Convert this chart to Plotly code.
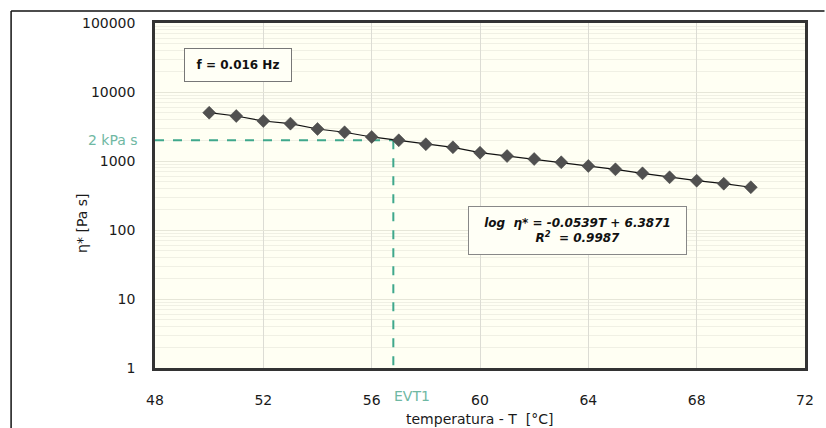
import plotly.graph_objects as go

# Data
temperature = [50, 51, 52, 53, 54, 55, 56, 57, 58, 59, 60, 61, 62, 63, 64, 65, 66, 67, 68, 69, 70]
viscosity = [5010, 4490, 3800, 3480, 2910, 2610, 2230, 1995, 1750, 1580, 1320,
             1180, 1070, 958, 847, 758, 663, 581, 518, 469, 416]
evt1_T = 56.8
ref_visc = 2000
x_ticks = [48, 52, 56, 60, 64, 68, 72]
y_decades = [1, 10, 100, 1000, 10000, 100000]

teal = "#3fa88c"
label_teal = "#6fb8a3"
font_family = "DejaVu Sans, Liberation Sans, Arial, sans-serif"

# minor log grid: 2..9 multiples within each decade
y_minor = [d * m for d in y_decades[:-1] for m in range(2, 10)]

fig = go.Figure()

# reference dashed lines (EVT1 at 2 kPa s)
fig.add_trace(go.Scatter(
    x=[48, evt1_T], y=[ref_visc, ref_visc], mode="lines",
    line=dict(color=teal, width=2, dash="dash"), hoverinfo="skip", showlegend=False))
fig.add_trace(go.Scatter(
    x=[evt1_T, evt1_T], y=[ref_visc, 1], mode="lines",
    line=dict(color=teal, width=2, dash="dash"), hoverinfo="skip", showlegend=False))

fig.add_trace(go.Scatter(
    x=temperature, y=viscosity, mode="lines+markers",
    line=dict(color="#111111", width=1.2),
    marker=dict(symbol="diamond", size=10, color="#505050",
                line=dict(color="#404040", width=0.5)),
    showlegend=False))

fig.update_xaxes(
    range=[48, 72], tickvals=x_ticks, ticktext=[str(v) for v in x_ticks],
    showgrid=True, gridcolor="#dcdcd4", gridwidth=1,
    showline=True, linecolor="#333333", linewidth=2.5, mirror=True,
    ticks="outside", ticklen=17, tickcolor="rgba(0,0,0,0)",
    tickfont=dict(family=font_family, size=14, color="#1a1a1a"),
    zeroline=False)

fig.update_yaxes(
    type="log", range=[0, 5], tickvals=y_decades, ticktext=[str(v) for v in y_decades],
    showgrid=True, gridcolor="#e6e6d8", gridwidth=1,
    minor=dict(tickvals=y_minor, showgrid=True, gridcolor="#f0f0e4", gridwidth=1, ticks=""),
    showline=True, linecolor="#333333", linewidth=2.5, mirror=True,
    ticks="outside", ticklen=14, tickcolor="rgba(0,0,0,0)",
    tickfont=dict(family=font_family, size=14, color="#1a1a1a"),
    zeroline=False)

annotations = [
    dict(x=51.06, y=4.39, xref="x", yref="y",
         text="<b>f = 0.016 Hz</b>", showarrow=False,
         font=dict(family=font_family, size=12, color="#111111"),
         bordercolor="#777777", borderwidth=1, bgcolor="#fffff6",
         width=100, height=26, borderpad=3),
    dict(x=63.6, y=2.0, xref="x", yref="y",
         text="<b><i>log  η* = -0.0539T + 6.3871<br>R<sup>2</sup>  = 0.9987</i></b>",
         showarrow=False, align="center",
         font=dict(family=font_family, size=12, color="#111111"),
         bordercolor="#888888", borderwidth=1, bgcolor="#fffff6",
         width=211, height=41, borderpad=3),
    dict(x=0, y=3.301, xref="paper", yref="y", xanchor="right", yanchor="middle",
         xshift=-15, text="2 kPa s", showarrow=False,
         font=dict(family=font_family, size=14, color=label_teal)),
    dict(x=evt1_T, y=0, xref="x", yref="paper", xanchor="left", yanchor="top",
         xshift=-1, yshift=-18, text="EVT1", showarrow=False,
         font=dict(family=font_family, size=14, color=label_teal)),
    dict(x=-0.128, y=0.42, xref="paper", yref="paper", textangle=-90,
         text="η* [Pa s]", showarrow=False,
         font=dict(family=font_family, size=14, color="#1a1a1a")),
    dict(x=0.499, y=-0.148, xref="paper", yref="paper", yanchor="middle",
         text="temperatura - T  [°C]", showarrow=False,
         font=dict(family=font_family, size=14, color="#1a1a1a")),
]

shapes = [
    dict(type="line", xref="paper", yref="paper", x0=-0.2214, x1=1.03, y0=1.0348, y1=1.0348,
         line=dict(color="#111111", width=1.5)),
    dict(type="line", xref="paper", yref="paper", x0=-0.2214, x1=-0.2214, y0=1.0348, y1=-0.2,
         line=dict(color="#111111", width=1.5)),
]

fig.update_layout(
    width=826, height=428,
    margin=dict(l=155, r=16, t=23, b=60),
    paper_bgcolor="white", plot_bgcolor="#fffff3",
    annotations=annotations, shapes=shapes,
    font=dict(family=font_family),
)

fig.write_html("out.html")
